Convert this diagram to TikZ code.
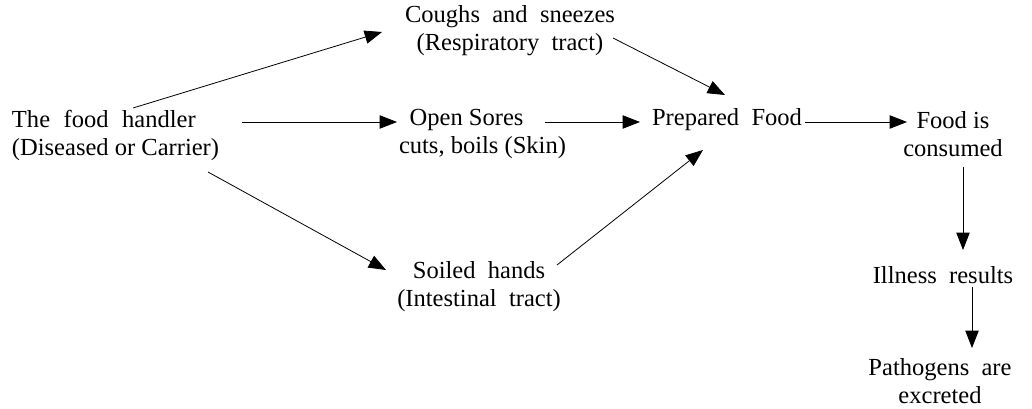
\documentclass[tikz,border=0pt]{standalone}
\usepackage{fontspec}
\setmainfont{Liberation Serif}
\usetikzlibrary{arrows.meta,calc}
\begin{document}
\begin{tikzpicture}[x=0.75pt,y=-0.75pt,
  lbl/.style={inner sep=0pt,outer sep=0pt,font=\fontsize{18.4}{21}\selectfont},
  wide/.style={execute at begin node={\spaceskip=0.5em plus 0.1em\relax}},
  arr/.style={line width=0.6pt,-{Triangle[length=13pt,width=10pt]}}]
\useasboundingbox (0,0) rectangle (1032,409);
\node[lbl,align=left,anchor=west] (handler) at (12,135) {The\hspace{0.55em}food\hspace{0.55em}handler\\(Diseased or Carrier)};
\node[lbl,wide,align=center] (coughs) at (510,31) {Coughs and sneezes\\(Respiratory tract)};
\node[lbl,align=left,anchor=west] (sores) at (399,134) {\hspace*{8pt}Open Sores\\cuts, boils (Skin)};
\node[lbl,wide] (prepared) at (727,120) {Prepared Food};
\node[lbl,align=center] (food) at (953,134) {Food is\\consumed};
\node[lbl,wide,align=center] (soiled) at (479,287) {Soiled hands\\(Intestinal tract)};
\node[lbl,wide] (illness) at (943,275) {Illness results};
\node[lbl,wide,align=center] (pathogens) at (940,381) {Pathogens are\\excreted};
\draw[arr] ($(handler.west)+(121,-27)$) -- ($(coughs)+(-128,1)$);
\draw[arr] ($(handler.west)+(230,-13)$) -- ($(sores.west)+(-2,-12)$);
\draw[arr] ($(handler.west)+(196,37)$) -- ($(soiled)+(-93,-17)$);
\draw[arr] ($(coughs)+(103,7)$) -- ($(prepared)+(-2,-25)$);
\draw[arr] ($(sores.west)+(146,-12)$) -- ($(prepared)+(-87,2)$);
\draw[arr] ($(soiled)+(78,-22)$) -- ($(prepared)+(-24,30)$);
\draw[arr] ($(prepared)+(78,2)$) -- ($(food)+(-46,-12)$);
\draw[arr] ($(food)+(10,33)$) -- ($(illness)+(20,-25)$);
\draw[arr] ($(illness)+(29,12)$) -- ($(pathogens)+(32,-33)$);
\end{tikzpicture}
\end{document}
